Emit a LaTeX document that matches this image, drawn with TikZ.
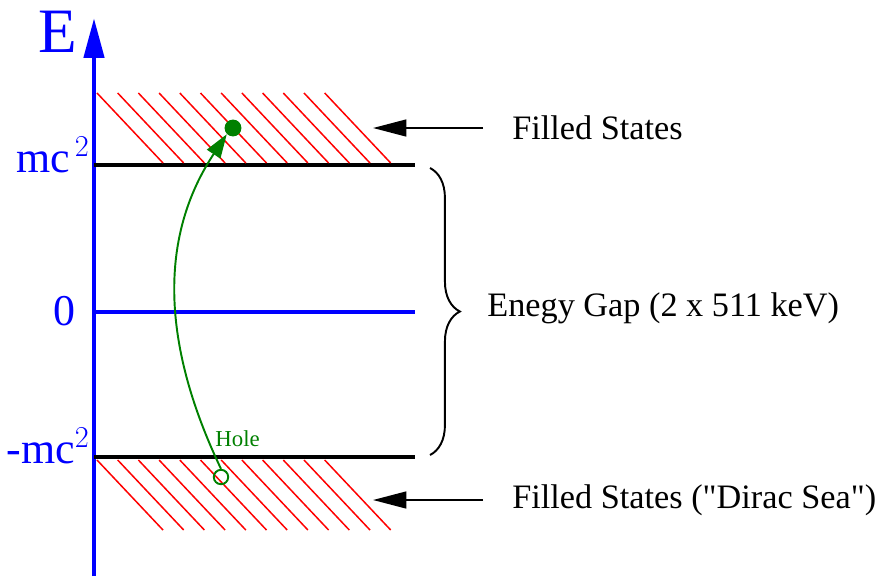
\documentclass[tikz,border=0pt]{standalone}
\usepackage{fontspec}
\setmainfont{Liberation Serif}[Ligatures=TeXOff]
\usetikzlibrary{arrows.meta,decorations.pathreplacing}
\definecolor{SeaGreen}{RGB}{0,128,0}

\begin{document}
\begin{tikzpicture}[x=0.02cm, y=-0.02cm,
            level/.style={line width=2.8pt},
            hatch/.style={red, line width=0.85pt},
            axislbl/.style={blue, font=\fontsize{25}{28}\selectfont, inner sep=0pt},
            txt/.style={font=\fontsize{19.5}{22}\selectfont, inner sep=0pt, anchor=west},
            pointer/.style={-{Triangle[length=19pt, width=9.6pt]}, line width=1.1pt, shorten <=16.4pt}
        ]
            \useasboundingbox (0,0) rectangle (879,576);

            % energy axis
            \coordinate (origin) at (94,576);
            \coordinate (top) at (94,18);
            \draw [blue, line width=2.8pt, -{Triangle[length=22.7pt, width=11.3pt]}] (origin) -- (top);
            \node (E) [blue, font=\fontsize{36}{40}\selectfont, inner sep=0pt, anchor=base] at (58,52) {E};

            % levels
            \draw [level] (94,165) coordinate (up) -- (415,165);
            \draw [level, blue] (94,312) coordinate (zero) -- (415,312);
            \draw [level] (94,457) coordinate (down) -- (415,457);
            \node (mc) [axislbl, anchor=base east] at (90,172) {mc$^{\,2}$};
            \node (zlbl) [axislbl, anchor=east] at (76,311) {0};
            \node (mmc) [axislbl, anchor=base east] at (90,463) {-mc$^2$};

            % filled states
            \foreach \i in {0,...,11}{
                \draw [hatch] (97+20.7*\i,93) -- (163+20.7*\i,163);
                \draw [hatch] (97+20.7*\i,460) -- (163+20.7*\i,530);
            }

            % hole and particle
            \node (hole) [circle, draw=SeaGreen, line width=1.1pt, minimum size=8.2pt, inner sep=0pt] at (221,477) {};
            \node (part) [circle, fill=SeaGreen, minimum size=9.6pt, inner sep=0pt] at (233,128) {};
            \draw [SeaGreen, line width=1.1pt, -{Triangle[length=13.6pt, width=9pt]}]
                (hole.north) .. controls (150,320) and (170,220) .. (part.south west);
            \node (hlbl) [SeaGreen, font=\fontsize{13}{15}\selectfont, inner sep=0pt, anchor=base west] at (215,446) {Hole};

            % labels
            \node (fs1) [txt] at (512,128) {Filled States};
            \node (fs2) [txt] at (512,500) {Filled States ("Dirac Sea")};
            \coordinate (tip1) at (373,128);
            \coordinate (tip2) at (373,500);
            \draw [pointer] (fs1.west) -- (tip1);
            \draw [pointer] (fs2.west) -- (tip2);

            % gap
            \draw [line width=1.1pt, decorate, decoration={brace, amplitude=17pt}] (430,168) coordinate (gtop) -- (430,455) coordinate (gbot);
            \node (gap) [txt] at (487,308) {Enegy Gap (2 x 511 keV)};
        \end{tikzpicture}
\end{document}
